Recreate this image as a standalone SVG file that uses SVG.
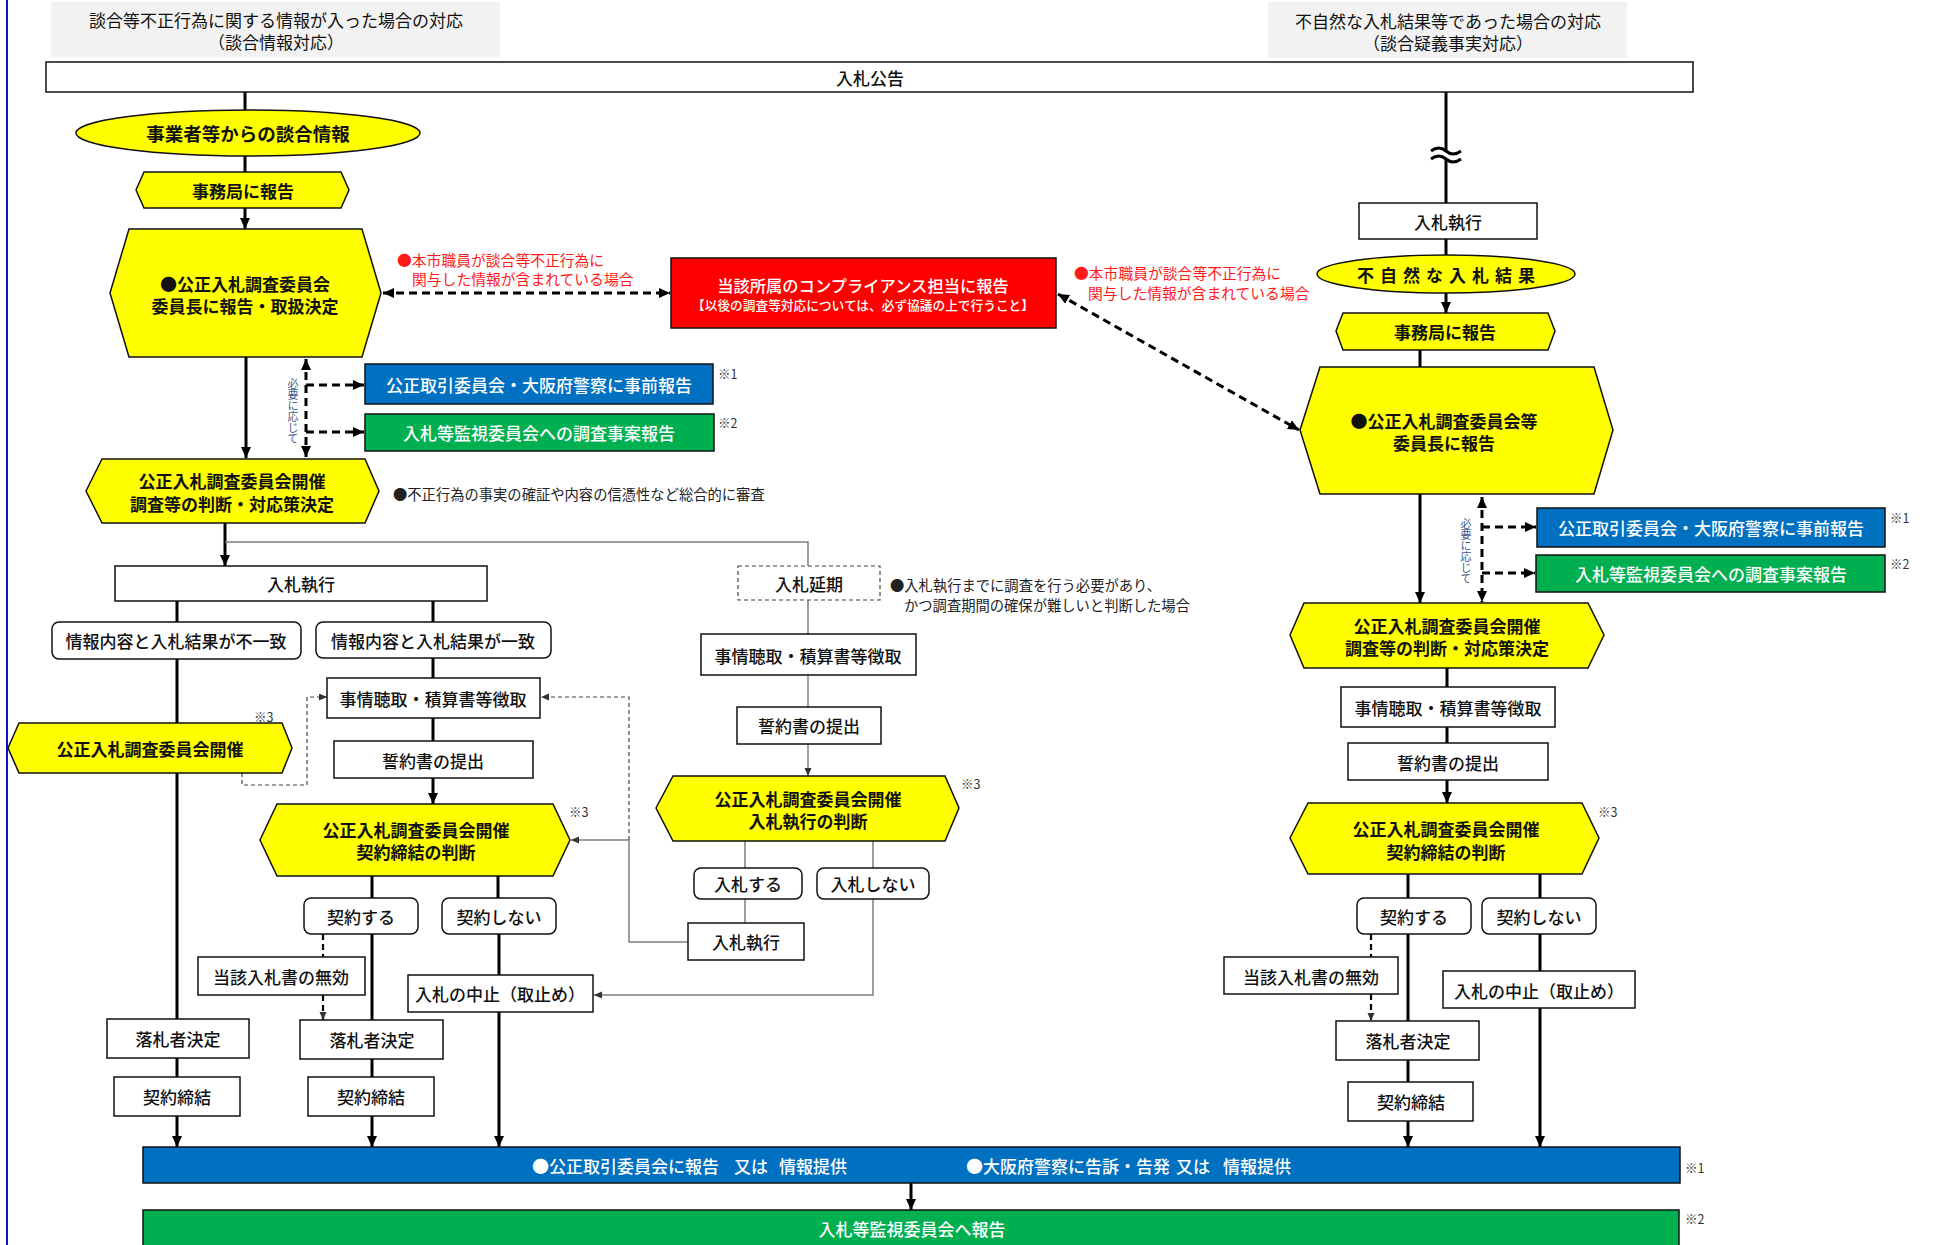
<svg xmlns="http://www.w3.org/2000/svg" width="1933" height="1245" viewBox="0 0 1933 1245">
<style>
text{font-family:"Noto Sans CJK JP","Noto Sans CJK SC",sans-serif;font-size:17px;font-weight:500;text-anchor:middle;dominant-baseline:central;fill:#111}
.b{font-weight:bold}
.w{fill:#fff}
.red{fill:#ff1a1a;font-size:14.8px;font-weight:400;text-anchor:start}
.note{font-size:14.3px;font-weight:400;text-anchor:start;fill:#222}
.mark{font-size:12.5px;font-weight:400;text-anchor:start;fill:#333}
.vt{font-size:11px;font-weight:400;fill:#3f5a8c;writing-mode:vertical-rl;text-orientation:upright;text-anchor:start;letter-spacing:0}
.box{fill:#fff;stroke:#111;stroke-width:1.5}
.dbox{fill:#fff;stroke:#444;stroke-width:1.2;stroke-dasharray:4 3}
.yel{fill:#ffff00;stroke:#111;stroke-width:1.5}
.thick{stroke:#000;stroke-width:3;fill:none}
.thin{stroke:#7f7f7f;stroke-width:1.5;fill:none}
.dash{stroke:#000;stroke-width:3;stroke-dasharray:8 5;fill:none}
.mdash{stroke:#000;stroke-width:2.2;stroke-dasharray:6 4;fill:none}
.tdash{stroke:#444;stroke-width:1.2;stroke-dasharray:4 3;fill:none}
</style>
<defs>
<marker id="ah" markerUnits="userSpaceOnUse" markerWidth="12" markerHeight="12" refX="11" refY="5" orient="auto-start-reverse"><path d="M0,0 L11,5 L0,10 z" fill="#000"/></marker>
<marker id="as" markerUnits="userSpaceOnUse" markerWidth="9" markerHeight="9" refX="8" refY="3.5" orient="auto-start-reverse"><path d="M0,0 L8,3.5 L0,7 z" fill="#333"/></marker>
</defs>

<line x1="7" y1="0" x2="7" y2="1245" stroke="#1010cc" stroke-width="2"/>

<g id="connectors">
<!-- left column thick -->
<path class="thick" d="M245,92 V110"/>
<path class="thick" d="M245,155 V172"/>
<path class="thick" d="M245,208 V229" marker-end="url(#ah)"/>
<path class="thick" d="M246,357 V458" marker-end="url(#ah)"/>
<path class="thick" d="M225,523 V566" marker-end="url(#ah)"/>
<path class="thin" d="M225,542 H808 V566"/>
<path class="thick" d="M177,601 V622"/>
<path class="thick" d="M433,601 V622"/>
<path class="thick" d="M177,659 V1019"/>
<path class="thick" d="M433,658 V678"/>
<path class="thick" d="M433,718 V741"/>
<path class="thick" d="M433,778 V804" marker-end="url(#ah)"/>
<path class="tdash" d="M242,773 V785 H307 V697 H327" marker-end="url(#as)"/>
<path class="thick" d="M372,876 V898"/>
<path class="thick" d="M498,876 V898"/>
<path class="thick" d="M372,934 V1020"/>
<path class="mdash" d="M323,934 V957"/>
<path class="mdash" d="M323,995 V1020" marker-end="url(#as)"/>
<path class="thick" d="M499,934 V975"/>
<path class="thick" d="M499,1012 V1147" marker-end="url(#ah)"/>
<path class="thick" d="M177,1058 V1077"/>
<path class="thick" d="M177,1116 V1147" marker-end="url(#ah)"/>
<path class="thick" d="M372,1059 V1077"/>
<path class="thick" d="M372,1116 V1147" marker-end="url(#ah)"/>
<path class="thick" d="M911,1183 V1210" marker-end="url(#ah)"/>
<!-- dashed report arrows -->
<path class="dash" d="M383,293 H670" marker-start="url(#ah)" marker-end="url(#ah)"/>
<path class="dash" d="M306,359 V457" marker-start="url(#ah)" marker-end="url(#ah)"/>
<path class="dash" d="M306,385 H364" marker-end="url(#ah)"/>
<path class="dash" d="M306,432 H364" marker-end="url(#ah)"/>
<path class="dash" d="M1058,294 L1299,430" marker-start="url(#ah)" marker-end="url(#ah)"/>
<!-- middle branch -->
<path class="thin" d="M808,600 V634"/>
<path class="thin" d="M808,675 V707"/>
<path class="thin" d="M808,744 V776" marker-end="url(#as)"/>
<path class="thin" d="M745,841 V868"/>
<path class="thin" d="M873,841 V868"/>
<path class="thin" d="M745,899 V923"/>
<path class="thin" d="M873,899 V995 H594" marker-end="url(#as)"/>
<path class="thin" d="M688,942 H629 V840"/>
<path class="thin" d="M629,840 H571" marker-end="url(#as)"/>
<path class="tdash" d="M629,840 V697 H541" marker-end="url(#as)"/>
<!-- right column -->
<path class="thick" d="M1446,92 V150"/>
<path class="thick" d="M1446,158 V203"/>
<path class="thick" d="M1431,151 q8,-6 15,0 t15,0"/>
<path class="thick" d="M1431,159 q8,-6 15,0 t15,0"/>
<path class="thick" d="M1446,239 V255"/>
<path class="thick" d="M1446,292 V313" marker-end="url(#ah)"/>
<path class="thick" d="M1420,350 V367"/>
<path class="thick" d="M1420,494 V603" marker-end="url(#ah)"/>
<path class="dash" d="M1482,497 V602" marker-start="url(#ah)" marker-end="url(#ah)"/>
<path class="dash" d="M1482,527 H1536" marker-end="url(#ah)"/>
<path class="dash" d="M1482,573 H1535" marker-end="url(#ah)"/>
<path class="thick" d="M1447,668 V687"/>
<path class="thick" d="M1447,727 V743"/>
<path class="thick" d="M1447,780 V803" marker-end="url(#ah)"/>
<path class="thick" d="M1408,874 V898"/>
<path class="thick" d="M1540,874 V898"/>
<path class="thick" d="M1408,934 V1021"/>
<path class="thick" d="M1408,1060 V1082"/>
<path class="thick" d="M1408,1121 V1147" marker-end="url(#ah)"/>
<path class="mdash" d="M1371,934 V957"/>
<path class="mdash" d="M1371,994 V1021" marker-end="url(#as)"/>
<path class="thick" d="M1540,934 V971"/>
<path class="thick" d="M1540,1008 V1147" marker-end="url(#ah)"/>
</g>

<!-- headers -->
<g id="title-left"><rect x="51" y="2" width="449" height="55" fill="#f2f2f2"/><text x="276" y="19" style="font-weight:400">談合等不正行為に関する情報が入った場合の対応</text><text x="276" y="41" style="font-weight:400">（談合情報対応）</text></g>
<g id="title-right"><rect x="1268" y="2" width="359" height="56" fill="#f2f2f2"/><text x="1448" y="20" style="font-weight:400">不自然な入札結果等であった場合の対応</text><text x="1448" y="42" style="font-weight:400">（談合疑義事実対応）</text></g>
<g id="nyusatsu-koukoku"><rect class="box" x="46" y="62" width="1647" height="30"/><text x="870" y="77">入札公告</text></g>

<!-- left column -->
<g id="dango-info"><ellipse class="yel" cx="248" cy="133" rx="172" ry="23"/><text class="b" x="248" y="133" style="font-size:18.5px">事業者等からの談合情報</text></g>
<g id="jimukyoku-l"><polygon class="yel" points="136,190 144,172 341,172 349,190 341,208 144,208"/><text class="b" x="243" y="190">事務局に報告</text></g>
<g id="chairman-l"><polygon class="yel" points="110,293 129,229 362,229 381,293 362,357 129,357"/><text class="b" x="245" y="283">●公正入札調査委員会</text><text class="b" x="245" y="305">委員長に報告・取扱決定</text></g>
<g id="note-red-l"><text class="red" x="397" y="259">●本市職員が談合等不正行為に</text><text class="red" x="412" y="278">関与した情報が含まれている場合</text></g>
<g id="compliance"><rect x="671" y="258" width="385" height="70" fill="#ff0000" stroke="#111" stroke-width="1.5"/><text class="w" x="863" y="285" style="font-size:16.3px">当該所属のコンプライアンス担当に報告</text><text class="w" x="863" y="304" style="font-size:12.7px">【以後の調査等対応については、必ず協議の上で行うこと】</text></g>
<g id="note-red-r"><text class="red" x="1074" y="272">●本市職員が談合等不正行為に</text><text class="red" x="1088" y="292">関与した情報が含まれている場合</text></g>
<g id="vt-l"><text class="vt" x="293" y="378">必要に応じて</text></g>
<g id="ftc-l"><rect x="365" y="364" width="348" height="40" fill="#0070c0" stroke="#111" stroke-width="1.5"/><text class="w" x="539" y="384">公正取引委員会・大阪府警察に事前報告</text><text class="mark" x="718" y="373">※1</text></g>
<g id="watch-l"><rect x="365" y="414" width="349" height="37" fill="#00b050" stroke="#111" stroke-width="1.5"/><text class="w" x="539" y="432">入札等監視委員会への調査事案報告</text><text class="mark" x="718" y="422">※2</text></g>
<g id="meeting-l"><polygon class="yel" points="86,491 102,459 365,459 379,491 365,523 102,523"/><text class="b" x="232" y="480">公正入札調査委員会開催</text><text class="b" x="232" y="503">調査等の判断・対応策決定</text></g>
<g id="note-l"><text class="note" x="393" y="493">●不正行為の事実の確証や内容の信憑性など総合的に審査</text></g>
<g id="exec-l"><rect class="box" x="115" y="566" width="372" height="35"/><text x="301" y="583">入札執行</text></g>
<g id="mismatch"><rect class="box" x="52" y="622" width="249" height="37" rx="7"/><text x="176" y="640">情報内容と入札結果が不一致</text></g>
<g id="match"><rect class="box" x="316" y="622" width="235" height="36" rx="7"/><text x="433" y="640">情報内容と入札結果が一致</text></g>
<g id="hearing-l"><rect class="box" x="327" y="678" width="213" height="40"/><text x="433" y="698">事情聴取・積算書等徴取</text></g>
<g id="pledge-l"><rect class="box" x="334" y="741" width="199" height="37"/><text x="433" y="760">誓約書の提出</text></g>
<g id="meeting-l3"><polygon class="yel" points="8,748 19,723 282,723 292,748 282,773 19,773"/><text class="b" x="150" y="748">公正入札調査委員会開催</text><text class="mark" x="254" y="716">※3</text></g>
<g id="contract-judge-l"><polygon class="yel" points="260,840 277,804 553,804 570,840 553,876 277,876"/><text class="b" x="416" y="829">公正入札調査委員会開催</text><text class="b" x="416" y="851">契約締結の判断</text><text class="mark" x="569" y="811">※3</text></g>
<g id="contract-yes-l"><rect class="box" x="304" y="898" width="114" height="36" rx="7"/><text x="361" y="916">契約する</text></g>
<g id="contract-no-l"><rect class="box" x="442" y="898" width="114" height="36" rx="7"/><text x="499" y="916">契約しない</text></g>
<g id="invalid-l"><rect class="box" x="198" y="957" width="167" height="38"/><text x="281" y="976">当該入札書の無効</text></g>
<g id="cancel-l"><rect class="box" x="408" y="975" width="185" height="37"/><text x="500" y="993">入札の中止（取止め）</text></g>
<g id="winner-l1"><rect class="box" x="107" y="1019" width="142" height="39"/><text x="178" y="1038">落札者決定</text></g>
<g id="winner-l2"><rect class="box" x="300" y="1020" width="143" height="39"/><text x="372" y="1039">落札者決定</text></g>
<g id="sign-l1"><rect class="box" x="114" y="1077" width="126" height="39"/><text x="177" y="1096">契約締結</text></g>
<g id="sign-l2"><rect class="box" x="308" y="1077" width="126" height="39"/><text x="371" y="1096">契約締結</text></g>

<!-- middle branch -->
<g id="postpone"><rect class="dbox" x="738" y="566" width="142" height="34"/><text x="809" y="583">入札延期</text></g>
<g id="note-m"><text class="note" x="890" y="584">●入札執行までに調査を行う必要があり、</text><text class="note" x="904" y="604">かつ調査期間の確保が難しいと判断した場合</text></g>
<g id="hearing-m"><rect class="box" x="701" y="634" width="215" height="41"/><text x="808" y="655">事情聴取・積算書等徴取</text></g>
<g id="pledge-m"><rect class="box" x="737" y="707" width="144" height="37"/><text x="809" y="725">誓約書の提出</text></g>
<g id="exec-judge"><polygon class="yel" points="656,808 673,776 945,776 959,808 945,841 673,841"/><text class="b" x="808" y="798">公正入札調査委員会開催</text><text class="b" x="808" y="820">入札執行の判断</text><text class="mark" x="961" y="783">※3</text></g>
<g id="bid-yes"><rect class="box" x="694" y="868" width="108" height="31" rx="7"/><text x="748" y="883">入札する</text></g>
<g id="bid-no"><rect class="box" x="817" y="868" width="112" height="31" rx="7"/><text x="873" y="883">入札しない</text></g>
<g id="exec-m"><rect class="box" x="688" y="923" width="116" height="37"/><text x="746" y="941">入札執行</text></g>

<!-- right column -->
<g id="exec-r"><rect class="box" x="1359" y="203" width="178" height="36"/><text x="1448" y="221">入札執行</text></g>
<g id="unnatural"><ellipse class="yel" cx="1446" cy="274" rx="129" ry="19"/><text class="b" x="1449" y="274" style="letter-spacing:6px">不自然な入札結果</text></g>
<g id="jimukyoku-r"><polygon class="yel" points="1336,331 1343,313 1548,313 1555,331 1548,350 1343,350"/><text class="b" x="1445" y="331">事務局に報告</text></g>
<g id="chairman-r"><polygon class="yel" points="1300,430 1320,367 1594,367 1613,430 1594,494 1320,494"/><text class="b" x="1444" y="420">●公正入札調査委員会等</text><text class="b" x="1444" y="442">委員長に報告</text></g>
<g id="vt-r"><text class="vt" x="1466" y="518">必要に応じて</text></g>
<g id="ftc-r"><rect x="1537" y="508" width="348" height="39" fill="#0070c0" stroke="#111" stroke-width="1.5"/><text class="w" x="1711" y="527">公正取引委員会・大阪府警察に事前報告</text><text class="mark" x="1890" y="517">※1</text></g>
<g id="watch-r"><rect x="1536" y="555" width="349" height="37" fill="#00b050" stroke="#111" stroke-width="1.5"/><text class="w" x="1711" y="573">入札等監視委員会への調査事案報告</text><text class="mark" x="1890" y="563">※2</text></g>
<g id="meeting-r"><polygon class="yel" points="1290,635 1304,603 1588,603 1604,635 1588,668 1304,668"/><text class="b" x="1447" y="625">公正入札調査委員会開催</text><text class="b" x="1447" y="647">調査等の判断・対応策決定</text></g>
<g id="hearing-r"><rect class="box" x="1341" y="687" width="214" height="40"/><text x="1448" y="707">事情聴取・積算書等徴取</text></g>
<g id="pledge-r"><rect class="box" x="1348" y="743" width="200" height="37"/><text x="1448" y="762">誓約書の提出</text></g>
<g id="contract-judge-r"><polygon class="yel" points="1290,838 1308,803 1582,803 1599,838 1582,874 1308,874"/><text class="b" x="1446" y="828">公正入札調査委員会開催</text><text class="b" x="1446" y="851">契約締結の判断</text><text class="mark" x="1598" y="811">※3</text></g>
<g id="contract-yes-r"><rect class="box" x="1357" y="898" width="114" height="36" rx="7"/><text x="1414" y="916">契約する</text></g>
<g id="contract-no-r"><rect class="box" x="1482" y="898" width="114" height="36" rx="7"/><text x="1539" y="916">契約しない</text></g>
<g id="invalid-r"><rect class="box" x="1224" y="957" width="174" height="37"/><text x="1311" y="976">当該入札書の無効</text></g>
<g id="cancel-r"><rect class="box" x="1443" y="971" width="192" height="37"/><text x="1539" y="990">入札の中止（取止め）</text></g>
<g id="winner-r"><rect class="box" x="1336" y="1021" width="143" height="39"/><text x="1408" y="1040">落札者決定</text></g>
<g id="sign-r"><rect class="box" x="1348" y="1082" width="125" height="39"/><text x="1411" y="1101">契約締結</text></g>

<!-- bottom -->
<g id="report-bar"><rect x="143" y="1147" width="1537" height="36" fill="#0070c0" stroke="#111" stroke-width="1.5"/><text class="w" style="text-anchor:start" y="1165"><tspan x="532">●公正取引委員会に報告</tspan><tspan x="734">又は</tspan><tspan x="779">情報提供</tspan><tspan x="966">●大阪府警察に告訴・告発</tspan><tspan x="1176">又は</tspan><tspan x="1223">情報提供</tspan></text><text class="mark" x="1685" y="1167">※1</text></g>
<g id="watch-bar"><rect x="143" y="1210" width="1536" height="45" fill="#00b050" stroke="#111" stroke-width="1.5"/><text class="w" x="912" y="1228">入札等監視委員会へ報告</text><text class="mark" x="1685" y="1218">※2</text></g>
</svg>
